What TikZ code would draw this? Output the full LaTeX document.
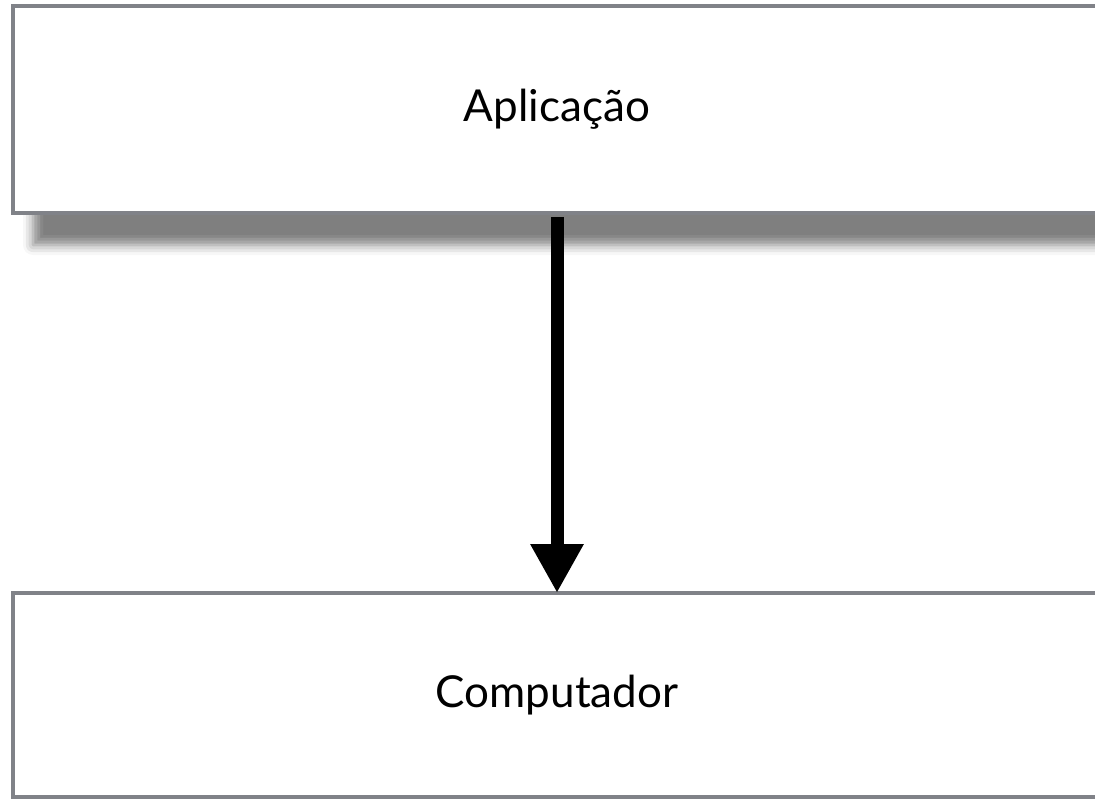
\documentclass[tikz,border=0pt]{standalone}
\usepackage{fontspec}
\setmainfont{Lato}
\usetikzlibrary{arrows.meta,shadows.blur}
\definecolor{layerline}{RGB}{128,130,136}
\tikzset{every picture/.style={line width=0.75pt}}

\begin{document}
\begin{tikzpicture}[x=1pt,y=1pt,yscale=-1,xscale=1,
  layerbox/.style={draw=layerline, line width=4pt, fill=white, inner sep=0pt, font=\fontsize{44}{48}\selectfont},
  flow/.style={line width=13pt, -{Triangle[width=50pt,length=49pt]}}]
%set diagram window to the reference size
\useasboundingbox (0,0) rectangle (1095,799);

% Text Node
\node [layerbox, minimum width=1088pt, minimum height=207pt,
  blur shadow={shadow xshift=20pt, shadow yshift=-32pt, shadow blur radius=10pt, shadow opacity=50}]
  (app) at (557,109.5) {Aplicação};
% Text Node
\node [layerbox, minimum width=1088pt, minimum height=204pt] (comp) at (557,695) {Computador};
% Connection
\draw [flow] ([yshift=2pt]app.south) -- ([yshift=2pt]comp.north);

\end{tikzpicture}
\end{document}
